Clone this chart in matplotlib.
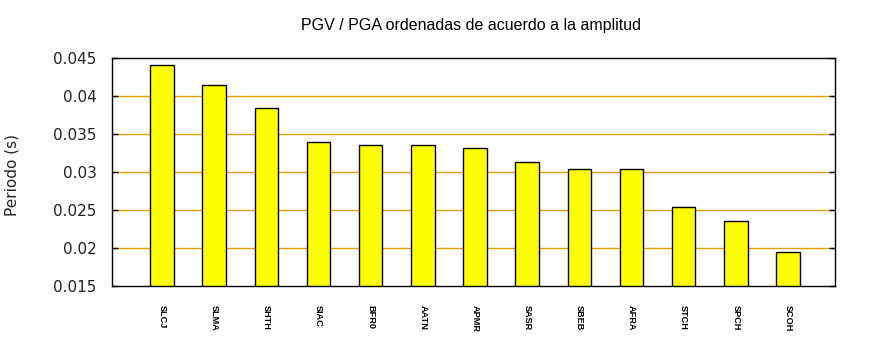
import matplotlib
matplotlib.use("Agg")
import matplotlib.pyplot as plt

# station codes, sorted by amplitude
stations = ["SLCJ", "SLMA", "SHTH", "SIAC", "BFR0", "AATN", "APMR",
            "SASR", "SBEB", "AFRA", "STCH", "SPCH", "SCOH"]
periods = [0.04405, 0.04142, 0.03839, 0.03391, 0.03351, 0.03351, 0.03312,
           0.03137, 0.03033, 0.03033, 0.02541, 0.02356, 0.01942]
y_ticks = [0.015, 0.02, 0.025, 0.03, 0.035, 0.04, 0.045]
y_tick_labels = ["0.015", "0.02", "0.025", "0.03", "0.035", "0.04", "0.045"]

fig = plt.figure(figsize=(8.7, 3.5), dpi=100)
ax = fig.add_axes([0.1287, 0.1829, 0.8311, 0.6514])

x = list(range(len(stations)))
ax.bar(x, [p - 0.015 for p in periods], bottom=0.015, width=0.45,
       color="#ffff00", edgecolor="black", linewidth=1.0, zorder=3)

ax.set_xlim(-0.96, 12.9)
ax.set_ylim(0.015, 0.045)

# orange horizontal grid, inner lines only
for yv in y_ticks[1:-1]:
    ax.axhline(yv, color="#e8a000", linewidth=1.0, zorder=1)

ax.set_yticks(y_ticks)
ax.set_yticklabels(y_tick_labels, fontsize=11, color="#222222")
ax.tick_params(axis="y", direction="in", length=4, width=1, right=True, pad=11)
ax.set_xticks(x)
ax.set_xticklabels(stations, rotation=270, fontsize=6.6, family="Liberation Sans",
                   fontweight="bold")
ax.tick_params(axis="x", length=0, pad=14)

for s in ax.spines.values():
    s.set_linewidth(1.0)

fig.text(12 / 870, 0.5, "Periodo (s)", rotation=90, ha="center", va="center",
         fontsize=11, color="#222222")
fig.text(0.541, 0.927, "PGV / PGA ordenadas de acuerdo a la amplitud",
         ha="center", va="center", fontsize=11.5, family="Liberation Sans")

fig.savefig("out.png", dpi=100)
